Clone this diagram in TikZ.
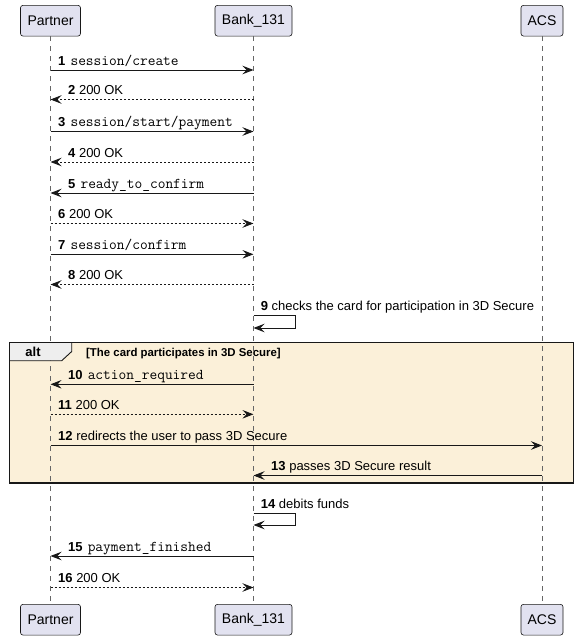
\documentclass[tikz,border=0pt]{standalone}
\usepackage{fontspec}
\setmainfont{Liberation Sans}
\usetikzlibrary{arrows.meta}
\definecolor{partfill}{HTML}{E2E2F0}
\definecolor{linec}{HTML}{181818}
\definecolor{altfill}{HTML}{FBF0D9}
\definecolor{tabfill}{HTML}{EEEEEE}
\tikzset{
  part/.style={draw=linec, fill=partfill, rounded corners=2.5pt, line width=0.6pt,
    minimum height=30.7pt, inner sep=0pt, font=\fontsize{14}{16}\selectfont},
  life/.style={draw=black!60, line width=0.6pt, dash pattern=on 5pt off 5pt},
  msg/.style={draw=linec, line width=0.9pt, -{Stealth[length=11pt,width=8.5pt,inset=4pt]}},
  ret/.style={msg, dash pattern=on 2pt off 2pt},
  lbl/.style={anchor=base west, inner sep=0pt, font=\fontsize{13}{15}\selectfont},
}
\newcommand{\num}[1]{{\bfseries #1}\ }
\newcommand{\mono}[1]{\hspace{1.5pt}{\fontsize{15}{16}\selectfont\ttfamily #1}}
\begin{document}
\begin{tikzpicture}[x=1pt,y=-1pt]
\useasboundingbox (0,0) rectangle (578,640);
% participants
\node[part, minimum width=60pt] (pt) at (50.5,20.7) {Partner};
\node[part, minimum width=77pt] (bt) at (253.5,20.7) {Bank\_131};
\node[part, minimum width=42pt] (at) at (542,20.7) {ACS};
\node[part, minimum width=60pt] (pb) at (50.5,619.7) {Partner};
\node[part, minimum width=77pt] (bb) at (253.5,619.7) {Bank\_131};
\node[part, minimum width=42pt] (ab) at (542,619.7) {ACS};
% alt fill
\fill[altfill] (9.5,342.5) rectangle (573.3,483);
% lifelines
\draw[life] (pt.south) -- (pb.north);
\draw[life] (bt.south) -- (bb.north);
\draw[life] (at.south) -- (ab.north);
% alt frame
\draw[draw=linec, fill=tabfill, line width=0.9pt] (9.5,342.5) -- (71.7,342.5) -- (71.7,351.5) -- (61.7,360.7) -- (9.5,360.7) -- cycle;
\draw[draw=linec, line width=1.5pt] (9.5,342.5) rectangle (573.3,483);
\node[font=\fontsize{13}{15}\selectfont\bfseries, inner sep=0pt] (altl) at (33,352) {alt};
\node[anchor=base west, inner sep=0pt, font=\fontsize{11.4}{13}\selectfont\bfseries] (cond) at (86,356.5) {[The card participates in 3D Secure]};
% messages
\draw[msg] (pt |- 0,70) -- (bt |- 0,70);
\node[lbl] (l1) at (58,65) {\num{1}\mono{session/create}};
\draw[ret] (bt |- 0,99.5) -- (pt |- 0,99.5);
\node[lbl] (l2) at (68,94.5) {\num{2}200 OK};
\draw[msg] (pt |- 0,131.5) -- (bt |- 0,131.5);
\node[lbl] (l3) at (58,126.5) {\num{3}\mono{session/start/payment}};
\draw[ret] (bt |- 0,162) -- (pt |- 0,162);
\node[lbl] (l4) at (68,157) {\num{4}200 OK};
\draw[msg] (bt |- 0,193) -- (pt |- 0,193);
\node[lbl] (l5) at (68,188) {\num{5}\mono{ready\_to\_confirm}};
\draw[ret] (pt |- 0,223.5) -- (bt |- 0,223.5);
\node[lbl] (l6) at (58,218.5) {\num{6}200 OK};
\draw[msg] (pt |- 0,254.3) -- (bt |- 0,254.3);
\node[lbl] (l7) at (58,249.3) {\num{7}\mono{session/confirm}};
\draw[ret] (bt |- 0,284.5) -- (pt |- 0,284.5);
\node[lbl] (l8) at (68,279.5) {\num{8}200 OK};
\draw[msg] (bt |- 0,315) -- (295.3,315) -- (295.3,328) -- (bt |- 0,328);
\node[lbl] (l9) at (260.7,310.5) {\num{9}checks the card for participation in 3D Secure};
\draw[msg] (bt |- 0,384.3) -- (pt |- 0,384.3);
\node[lbl] (l10) at (68,379.3) {\num{10}\mono{action\_required}};
\draw[ret] (pt |- 0,414.3) -- (bt |- 0,414.3);
\node[lbl] (l11) at (58,409.3) {\num{11}200 OK};
\draw[msg] (pt |- 0,445.5) -- (at |- 0,445.5);
\node[lbl] (l12) at (58,440.5) {\num{12}redirects the user to pass 3D Secure};
\draw[msg] (at |- 0,475.5) -- (bt |- 0,475.5);
\node[lbl] (l13) at (271,470.5) {\num{13}passes 3D Secure result};
\draw[msg] (bt |- 0,513) -- (295.3,513) -- (295.3,525) -- (bt |- 0,525);
\node[lbl] (l14) at (260.7,508.5) {\num{14}debits funds};
\draw[msg] (bt |- 0,556) -- (pt |- 0,556);
\node[lbl] (l15) at (68,551) {\num{15}\mono{payment\_finished}};
\draw[ret] (pt |- 0,587.5) -- (bt |- 0,587.5);
\node[lbl] (l16) at (58,582.5) {\num{16}200 OK};
\end{tikzpicture}
\end{document}
